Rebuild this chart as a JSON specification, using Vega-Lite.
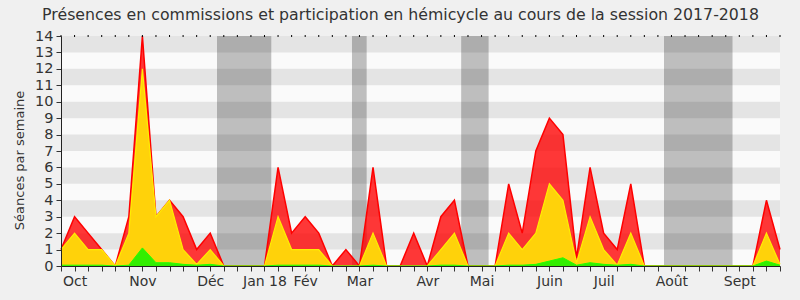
{
  "$schema": "https://vega.github.io/schema/vega-lite/v6.json",
  "width": 719,
  "height": 230,
  "autosize": {"type": "none"},
  "padding": {"left": 61, "top": 36, "right": 20, "bottom": 34},
  "background": "#f0f0f0",
  "config": {"view": {"fill": "#fafafa", "stroke": null}, "font": "DejaVu Sans", "axis": {"grid": false}},
  "title": {"text": "Présences en commissions et participation en hémicycle au cours de la session 2017-2018", "fontSize": 15.75, "font": "DejaVu Sans", "fontWeight": "normal", "color": "#333", "anchor": "middle", "frame": "group", "dx": -20, "offset": 4},
  "datasets": {
    "weeks": [
      {"week": 0, "total": 1, "hemi": 1, "quest": 0.05},
      {"week": 1, "total": 3, "hemi": 2, "quest": 0.05},
      {"week": 2, "total": 2, "hemi": 1, "quest": 0.05},
      {"week": 3, "total": 1, "hemi": 1, "quest": 0.05},
      {"week": 4, "total": 0, "hemi": 0, "quest": 0},
      {"week": 5, "total": 3, "hemi": 2, "quest": 0.05},
      {"week": 6, "total": 14, "hemi": 12, "quest": 1.1},
      {"week": 7, "total": 3, "hemi": 3, "quest": 0.2},
      {"week": 8, "total": 4, "hemi": 4, "quest": 0.2},
      {"week": 9, "total": 3, "hemi": 1, "quest": 0.1},
      {"week": 10, "total": 1, "hemi": 0.1, "quest": 0.05},
      {"week": 11, "total": 2, "hemi": 1, "quest": 0.1},
      {"week": 12, "total": 0, "hemi": 0, "quest": 0},
      {"week": 13, "total": 0, "hemi": 0, "quest": 0},
      {"week": 14, "total": 0, "hemi": 0, "quest": 0},
      {"week": 15, "total": 0, "hemi": 0, "quest": 0},
      {"week": 16, "total": 6, "hemi": 3, "quest": 0.05},
      {"week": 17, "total": 2, "hemi": 1, "quest": 0.05},
      {"week": 18, "total": 3, "hemi": 1, "quest": 0.05},
      {"week": 19, "total": 2, "hemi": 1, "quest": 0.05},
      {"week": 20, "total": 0, "hemi": 0, "quest": 0},
      {"week": 21, "total": 1, "hemi": 0, "quest": 0},
      {"week": 22, "total": 0, "hemi": 0, "quest": 0},
      {"week": 23, "total": 6, "hemi": 2, "quest": 0.05},
      {"week": 24, "total": 0, "hemi": 0, "quest": 0},
      {"week": 25, "total": 0, "hemi": 0, "quest": 0},
      {"week": 26, "total": 2, "hemi": 0, "quest": 0},
      {"week": 27, "total": 0, "hemi": 0, "quest": 0},
      {"week": 28, "total": 3, "hemi": 1, "quest": 0.05},
      {"week": 29, "total": 4, "hemi": 2, "quest": 0.05},
      {"week": 30, "total": 0, "hemi": 0, "quest": 0},
      {"week": 31, "total": 0, "hemi": 0, "quest": 0},
      {"week": 32, "total": 0, "hemi": 0, "quest": 0},
      {"week": 33, "total": 5, "hemi": 2, "quest": 0.05},
      {"week": 34, "total": 2, "hemi": 1, "quest": 0.05},
      {"week": 35, "total": 7, "hemi": 2, "quest": 0.1},
      {"week": 36, "total": 9, "hemi": 5, "quest": 0.3},
      {"week": 37, "total": 8, "hemi": 4, "quest": 0.5},
      {"week": 38, "total": 0.5, "hemi": 0.2, "quest": 0.05},
      {"week": 39, "total": 6, "hemi": 3, "quest": 0.2},
      {"week": 40, "total": 2, "hemi": 1, "quest": 0.1},
      {"week": 41, "total": 1, "hemi": 0.05, "quest": 0.05},
      {"week": 42, "total": 5, "hemi": 2, "quest": 0.1},
      {"week": 43, "total": 0, "hemi": 0, "quest": 0},
      {"week": 44, "total": 0, "hemi": 0, "quest": 0},
      {"week": 45, "total": 0, "hemi": 0, "quest": 0},
      {"week": 46, "total": 0, "hemi": 0, "quest": 0},
      {"week": 47, "total": 0, "hemi": 0, "quest": 0},
      {"week": 48, "total": 0, "hemi": 0, "quest": 0},
      {"week": 49, "total": 0, "hemi": 0, "quest": 0},
      {"week": 50, "total": 0, "hemi": 0, "quest": 0},
      {"week": 51, "total": 0, "hemi": 0, "quest": 0},
      {"week": 52, "total": 4, "hemi": 2, "quest": 0.3},
      {"week": 53, "total": 1, "hemi": 0.1, "quest": 0.05}
    ],
    "vacances": [
      {"start": 11.5, "end": 15.5},
      {"start": 21.45, "end": 22.53},
      {"start": 29.5, "end": 31.52},
      {"start": 44.45, "end": 49.5}
    ],
    "bandes": [
      {"lo": 1, "hi": 2}, {"lo": 3, "hi": 4}, {"lo": 5, "hi": 6}, {"lo": 7, "hi": 8},
      {"lo": 9, "hi": 10}, {"lo": 11, "hi": 12}, {"lo": 13, "hi": 14}
    ]
  },
  "layer": [
    {
      "data": {"name": "vacances"},
      "mark": {"type": "rect", "fill": "#bebebe"},
      "encoding": {
        "x": {"field": "start", "type": "quantitative", "scale": {"domain": [0, 53], "nice": false, "zero": false},
          "axis": {"orient": "bottom", "title": null, "grid": false, "zindex": 1, "values": [0,1,2,3,4,5,6,7,8,9,10,11,12,13,14,15,16,17,18,19,20,21,22,23,24,25,26,27,28,29,30,31,32,33,34,35,36,37,38,39,40,41,42,43,44,45,46,47,48,49,50,51,52,53], "labelExpr": "({'1':'Oct','6':'Nov','11':'Déc','15':'Jan 18','18':'Fév','22':'Mar','27':'Avr','31':'Mai','36':'Juin','40':'Juil','45':'Août','50':'Sept'})[''+datum.value] || ''", "labelOverlap": false, "labelFlush": false, "labelFontSize": 14, "labelColor": "#333", "labelPadding": 3, "tickSize": 5, "tickColor": "#333", "domainColor": "#222"}},
        "x2": {"field": "end"},
        "y": {"datum": 0, "type": "quantitative", "scale": {"domain": [0, 14], "nice": false},
          "axis": {"title": "Séances par semaine", "grid": false, "zindex": 1, "values": [0,1,2,3,4,5,6,7,8,9,10,11,12,13,14], "labelFontSize": 14.5, "labelColor": "#333", "labelPadding": 3, "tickSize": 5, "tickColor": "#333", "domainColor": "#222", "titleFontSize": 13, "titleFontWeight": "normal", "titleColor": "#333", "titlePadding": 8, "titleY": 124}},
        "y2": {"datum": 14}
      }
    },
    {
      "data": {"name": "bandes"},
      "mark": {"type": "rect", "fill": "#000000", "opacity": 0.085},
      "encoding": {
        "x": {"datum": 0, "type": "quantitative", "scale": {"domain": [0, 53], "nice": false, "zero": false},
          "axis": {"orient": "bottom", "title": null, "grid": false, "zindex": 1, "values": [0,1,2,3,4,5,6,7,8,9,10,11,12,13,14,15,16,17,18,19,20,21,22,23,24,25,26,27,28,29,30,31,32,33,34,35,36,37,38,39,40,41,42,43,44,45,46,47,48,49,50,51,52,53], "labelExpr": "({'1':'Oct','6':'Nov','11':'Déc','15':'Jan 18','18':'Fév','22':'Mar','27':'Avr','31':'Mai','36':'Juin','40':'Juil','45':'Août','50':'Sept'})[''+datum.value] || ''", "labelOverlap": false, "labelFlush": false, "labelFontSize": 14, "labelColor": "#333", "labelPadding": 3, "tickSize": 5, "tickColor": "#333", "domainColor": "#222"}},
        "x2": {"datum": 53},
        "y": {"field": "lo", "type": "quantitative", "scale": {"domain": [0, 14], "nice": false},
          "axis": {"title": "Séances par semaine", "grid": false, "zindex": 1, "values": [0,1,2,3,4,5,6,7,8,9,10,11,12,13,14], "labelFontSize": 14.5, "labelColor": "#333", "labelPadding": 3, "tickSize": 5, "tickColor": "#333", "domainColor": "#222", "titleFontSize": 13, "titleFontWeight": "normal", "titleColor": "#333", "titlePadding": 8, "titleY": 124}},
        "y2": {"field": "hi"}
      }
    },
    {
      "data": {"name": "weeks"},
      "mark": {"type": "area", "fill": "#ff0000", "fillOpacity": 0.78, "line": {"color": "#ff0000", "strokeWidth": 1.5}},
      "encoding": {
        "x": {"field": "week", "type": "quantitative", "scale": {"domain": [0, 53], "nice": false, "zero": false},
          "axis": {"orient": "bottom", "title": null, "grid": false, "zindex": 1, "values": [0,1,2,3,4,5,6,7,8,9,10,11,12,13,14,15,16,17,18,19,20,21,22,23,24,25,26,27,28,29,30,31,32,33,34,35,36,37,38,39,40,41,42,43,44,45,46,47,48,49,50,51,52,53], "labelExpr": "({'1':'Oct','6':'Nov','11':'Déc','15':'Jan 18','18':'Fév','22':'Mar','27':'Avr','31':'Mai','36':'Juin','40':'Juil','45':'Août','50':'Sept'})[''+datum.value] || ''", "labelOverlap": false, "labelFlush": false, "labelFontSize": 14, "labelColor": "#333", "labelPadding": 3, "tickSize": 5, "tickColor": "#333", "domainColor": "#222"}},
        "y": {"field": "total", "type": "quantitative", "scale": {"domain": [0, 14], "nice": false},
          "axis": {"title": "Séances par semaine", "grid": false, "zindex": 1, "values": [0,1,2,3,4,5,6,7,8,9,10,11,12,13,14], "labelFontSize": 14.5, "labelColor": "#333", "labelPadding": 3, "tickSize": 5, "tickColor": "#333", "domainColor": "#222", "titleFontSize": 13, "titleFontWeight": "normal", "titleColor": "#333", "titlePadding": 8, "titleY": 124}}
      }
    },
    {
      "data": {"name": "weeks"},
      "mark": {"type": "area", "fill": "#ffd20a", "fillOpacity": 1, "opacity": 1, "line": {"color": "#ffee00", "strokeWidth": 1.2}},
      "encoding": {
        "x": {"field": "week", "type": "quantitative", "scale": {"domain": [0, 53], "nice": false, "zero": false},
          "axis": {"orient": "bottom", "title": null, "grid": false, "zindex": 1, "values": [0,1,2,3,4,5,6,7,8,9,10,11,12,13,14,15,16,17,18,19,20,21,22,23,24,25,26,27,28,29,30,31,32,33,34,35,36,37,38,39,40,41,42,43,44,45,46,47,48,49,50,51,52,53], "labelExpr": "({'1':'Oct','6':'Nov','11':'Déc','15':'Jan 18','18':'Fév','22':'Mar','27':'Avr','31':'Mai','36':'Juin','40':'Juil','45':'Août','50':'Sept'})[''+datum.value] || ''", "labelOverlap": false, "labelFlush": false, "labelFontSize": 14, "labelColor": "#333", "labelPadding": 3, "tickSize": 5, "tickColor": "#333", "domainColor": "#222"}},
        "y": {"field": "hemi", "type": "quantitative", "scale": {"domain": [0, 14], "nice": false},
          "axis": {"title": "Séances par semaine", "grid": false, "zindex": 1, "values": [0,1,2,3,4,5,6,7,8,9,10,11,12,13,14], "labelFontSize": 14.5, "labelColor": "#333", "labelPadding": 3, "tickSize": 5, "tickColor": "#333", "domainColor": "#222", "titleFontSize": 13, "titleFontWeight": "normal", "titleColor": "#333", "titlePadding": 8, "titleY": 124}}
      }
    },
    {
      "data": {"name": "weeks"},
      "mark": {"type": "area", "fill": "#33ee00", "fillOpacity": 1, "opacity": 1, "line": {"color": "#22ff00", "strokeWidth": 1}},
      "encoding": {
        "x": {"field": "week", "type": "quantitative", "scale": {"domain": [0, 53], "nice": false, "zero": false},
          "axis": {"orient": "bottom", "title": null, "grid": false, "zindex": 1, "values": [0,1,2,3,4,5,6,7,8,9,10,11,12,13,14,15,16,17,18,19,20,21,22,23,24,25,26,27,28,29,30,31,32,33,34,35,36,37,38,39,40,41,42,43,44,45,46,47,48,49,50,51,52,53], "labelExpr": "({'1':'Oct','6':'Nov','11':'Déc','15':'Jan 18','18':'Fév','22':'Mar','27':'Avr','31':'Mai','36':'Juin','40':'Juil','45':'Août','50':'Sept'})[''+datum.value] || ''", "labelOverlap": false, "labelFlush": false, "labelFontSize": 14, "labelColor": "#333", "labelPadding": 3, "tickSize": 5, "tickColor": "#333", "domainColor": "#222"}},
        "y": {"field": "quest", "type": "quantitative", "scale": {"domain": [0, 14], "nice": false},
          "axis": {"title": "Séances par semaine", "grid": false, "zindex": 1, "values": [0,1,2,3,4,5,6,7,8,9,10,11,12,13,14], "labelFontSize": 14.5, "labelColor": "#333", "labelPadding": 3, "tickSize": 5, "tickColor": "#333", "domainColor": "#222", "titleFontSize": 13, "titleFontWeight": "normal", "titleColor": "#333", "titlePadding": 8, "titleY": 124}}
      }
    },
    {
      "data": {"name": "weeks"},
      "mark": {"type": "tick", "orient": "vertical", "color": "#000000", "size": 2, "thickness": 1, "opacity": 1},
      "encoding": {
        "x": {"field": "week", "type": "quantitative", "scale": {"domain": [0, 53], "nice": false, "zero": false},
          "axis": {"orient": "bottom", "title": null, "grid": false, "zindex": 1, "values": [0,1,2,3,4,5,6,7,8,9,10,11,12,13,14,15,16,17,18,19,20,21,22,23,24,25,26,27,28,29,30,31,32,33,34,35,36,37,38,39,40,41,42,43,44,45,46,47,48,49,50,51,52,53], "labelExpr": "({'1':'Oct','6':'Nov','11':'Déc','15':'Jan 18','18':'Fév','22':'Mar','27':'Avr','31':'Mai','36':'Juin','40':'Juil','45':'Août','50':'Sept'})[''+datum.value] || ''", "labelOverlap": false, "labelFlush": false, "labelFontSize": 14, "labelColor": "#333", "labelPadding": 3, "tickSize": 5, "tickColor": "#333", "domainColor": "#222"}},
        "y": {"datum": 14, "type": "quantitative", "scale": {"domain": [0, 14], "nice": false},
          "axis": {"title": "Séances par semaine", "grid": false, "zindex": 1, "values": [0,1,2,3,4,5,6,7,8,9,10,11,12,13,14], "labelFontSize": 14.5, "labelColor": "#333", "labelPadding": 3, "tickSize": 5, "tickColor": "#333", "domainColor": "#222", "titleFontSize": 13, "titleFontWeight": "normal", "titleColor": "#333", "titlePadding": 8, "titleY": 124}}
      }
    }
  ]
}
